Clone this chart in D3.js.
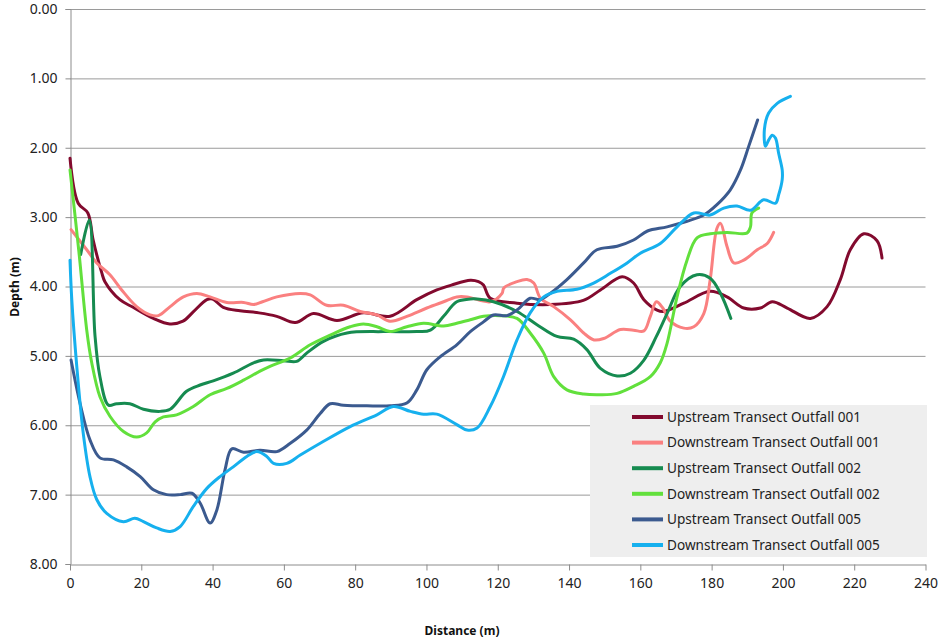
<!DOCTYPE html>
<html>
<head>
<meta charset="utf-8">
<script src="https://cdn.jsdelivr.net/npm/d3@7/dist/d3.min.js"></script>
<style>
  html, body { margin: 0; padding: 0; background: #fff; }
  svg { display: block; }
</style>
</head>
<body>
<svg id="chart" width="942" height="642"></svg>
<script>
// ---- Data: [distance (m), depth (m)] ----
const seriesNames = [
  "Upstream Transect Outfall 001",
  "Downstream Transect Outfall 001",
  "Upstream Transect Outfall 002",
  "Downstream Transect Outfall 002",
  "Upstream Transect Outfall 005",
  "Downstream Transect Outfall 005"
];
const seriesColors = ["#820a2e", "#fa8080", "#168b50", "#62e03c", "#3b5a8f", "#16b0ee"];

const upstream001 = [[0,2.15],[2.3,2.8],[5,2.94],[6.5,3.33],[8.9,3.8],[9.8,3.93],[14,4.19],[17.7,4.3],[23.4,4.46],[28,4.54],[31.7,4.5],[34.5,4.37],[38.4,4.19],[40,4.18],[43,4.3],[47.7,4.35],[53,4.38],[58,4.43],[63.2,4.52],[68.3,4.39],[74.9,4.49],[82.3,4.38],[89.8,4.43],[97.3,4.19],[102.9,4.05],[107,3.98],[112.3,3.91],[114.6,3.93],[116,3.98],[117.9,4.17],[125.4,4.24],[134.7,4.26],[144,4.2],[148.8,4.05],[154.9,3.86],[158.1,3.95],[161,4.19],[164.7,4.34],[166.5,4.36],[172.2,4.24],[179.6,4.07],[184.3,4.15],[189,4.31],[193.7,4.31],[197,4.22],[201.2,4.31],[207.7,4.46],[212.4,4.29],[216.1,3.9],[218.9,3.47],[222.7,3.24],[226.4,3.34],[227.8,3.59]];

const downstream001 = [[0.3,3.18],[4.7,3.47],[7.5,3.66],[11.2,3.83],[14.5,4.05],[18.7,4.29],[22.5,4.41],[24.8,4.42],[28.1,4.29],[31.8,4.15],[35.6,4.1],[39.3,4.15],[44,4.23],[48.7,4.23],[51.5,4.26],[54,4.22],[58,4.15],[64.6,4.1],[67.4,4.12],[72,4.27],[76.7,4.27],[81.4,4.36],[86.1,4.41],[89.8,4.5],[94.5,4.43],[100.1,4.31],[104.8,4.22],[108.5,4.15],[111.4,4.15],[117.9,4.22],[121.2,4.1],[121.7,4.02],[125.4,3.93],[128.2,3.9],[130.1,3.95],[132,4.17],[135.7,4.29],[140.4,4.48],[144.1,4.67],[147,4.77],[149.7,4.75],[154.4,4.62],[158.1,4.63],[161,4.64],[162.8,4.43],[164.5,4.22],[166.3,4.31],[168.4,4.5],[172.2,4.6],[175,4.58],[177.8,4.39],[179.6,3.9],[181.5,3.16],[182.5,3.09],[184.3,3.42],[186.2,3.66],[189,3.62],[192.8,3.47],[195.6,3.38],[197.4,3.22]];

const upstream002 = [[3,3.54],[5.4,3.04],[7,4.7],[8.4,5.3],[10.8,5.71],[13.1,5.69],[16.8,5.69],[20.6,5.77],[25.3,5.8],[28.1,5.77],[32.7,5.51],[36.5,5.42],[40.2,5.36],[45.8,5.25],[51.5,5.1],[54.3,5.06],[59.9,5.07],[63.6,5.08],[66.4,4.96],[71.1,4.79],[77.7,4.67],[87.9,4.65],[97.3,4.65],[101.1,4.63],[104.8,4.43],[108.5,4.22],[112.3,4.18],[114.2,4.18],[118.8,4.22],[125.4,4.36],[131,4.55],[136.6,4.72],[141.3,4.76],[145,4.91],[148.8,5.18],[153.5,5.29],[157.2,5.25],[161,5.06],[164.5,4.72],[167.5,4.39],[171.2,4.0],[175.9,3.83],[179.6,3.88],[182.5,4.1],[185.4,4.46]];

const downstream002 = [[0,2.32],[2.5,3.5],[4.7,4.63],[6.1,5.1],[8.4,5.59],[11.2,5.87],[15,6.09],[18.7,6.17],[21.5,6.11],[23.9,5.95],[26.2,5.88],[29.9,5.85],[34.6,5.73],[39.3,5.56],[44,5.47],[48.7,5.35],[53.3,5.22],[56.1,5.15],[61.8,5.03],[67.4,4.84],[73,4.7],[78.6,4.58],[82.3,4.54],[86.1,4.58],[89.8,4.65],[94.5,4.58],[99.2,4.53],[104.8,4.57],[108.5,4.53],[112.3,4.48],[116,4.43],[120.7,4.42],[125.4,4.46],[129.1,4.67],[132.9,4.96],[135.7,5.3],[139.4,5.49],[144.1,5.55],[148.8,5.56],[153.5,5.54],[158.1,5.44],[162.8,5.3],[165.6,5.1],[167.5,4.82],[170.3,4.15],[173.1,3.62],[175.9,3.3],[179.6,3.24],[184.3,3.22],[189.9,3.23],[190.9,3.14],[191.3,2.94],[193.2,2.87]];

const upstream005 = [[0.3,5.06],[2.8,5.68],[5.6,6.21],[8.4,6.47],[12.2,6.5],[15.9,6.6],[19.7,6.74],[23.4,6.93],[27.1,7.0],[30.9,7.0],[34.2,6.98],[36.5,7.12],[39.3,7.41],[41.2,7.22],[43.5,6.64],[45.4,6.34],[48.7,6.39],[53.3,6.36],[58,6.38],[61.8,6.26],[66.4,6.07],[70.2,5.83],[73,5.69],[76.7,5.71],[83.3,5.72],[89.8,5.72],[94.5,5.68],[97.3,5.49],[100.1,5.2],[103.9,5.01],[108.5,4.84],[112.3,4.65],[116,4.51],[118.8,4.41],[122.6,4.42],[125.4,4.34],[129.1,4.17],[131.9,4.19],[134.7,4.1],[139.4,3.9],[144.1,3.66],[147.8,3.47],[153.5,3.42],[158.1,3.33],[162,3.2],[167.5,3.14],[173.1,3.06],[177.8,2.97],[181.5,2.82],[185.2,2.61],[188.1,2.32],[190.4,1.98],[192.9,1.6]];

const downstream005 = [[0,3.62],[0.5,4.19],[1.9,5.15],[3.7,6.11],[5.6,6.74],[7.5,7.07],[10.3,7.27],[15,7.39],[18.2,7.34],[20.6,7.39],[24.3,7.48],[28.1,7.53],[30.9,7.46],[34.6,7.17],[38.4,6.91],[42.1,6.74],[45.8,6.6],[49.6,6.45],[52.4,6.38],[55.2,6.45],[57.1,6.55],[60.8,6.55],[64.6,6.43],[70.2,6.26],[78.6,6.02],[86.1,5.85],[90.7,5.73],[95.5,5.8],[99.2,5.84],[102.9,5.84],[108.5,5.99],[111.4,6.07],[114.2,6.04],[117.9,5.73],[121.6,5.3],[125.4,4.77],[129.1,4.38],[132.9,4.15],[136.6,4.07],[142.2,4.04],[146.9,3.95],[151.6,3.81],[156.3,3.66],[160,3.52],[165.6,3.38],[170.3,3.14],[175,2.94],[179.6,2.97],[183.4,2.87],[187.1,2.84],[190.9,2.9],[194.6,2.75],[197.9,2.8],[198.8,2.68],[199.8,2.46],[199.8,2.32],[198.8,2.08],[197.9,1.86],[197,1.82],[196,1.89],[195.1,1.98],[194.8,1.74],[196,1.5],[198.4,1.36],[202.1,1.26]];

const xTicks = [0,20,40,60,80,100,120,140,160,180,200,220,240];
const yTicks = [0,1,2,3,4,5,6,7,8];
const xTitle = "Distance (m)";
const yTitle = "Depth (m)";

const allSeries = [upstream001, downstream001, upstream002, downstream002, upstream005, downstream005];

// ---- Layout ----
const svg = d3.select("#chart");
const x = d3.scaleLinear().domain([0, 240]).range([70, 925.5]);
const y = d3.scaleLinear().domain([0, 8]).range([9, 564]);
const font = "'Noto Sans', 'Open Sans', sans-serif";

// gridlines
svg.append("g").selectAll("line").data(yTicks.slice(0, -1)).join("line")
  .attr("x1", x(0)).attr("x2", x(240))
  .attr("y1", d => y(d) + 0.5).attr("y2", d => y(d) + 0.5)
  .attr("stroke", "#9a9a9a").attr("stroke-width", 1);

// y axis
const yAxis = svg.append("g").attr("transform", `translate(${x(0) + 0.5},0)`)
  .call(d3.axisLeft(y).tickValues(yTicks).tickFormat(d3.format(".2f")).tickSize(5).tickPadding(8));
yAxis.select(".domain").attr("stroke", "#8c8c8c");
yAxis.selectAll(".tick line").attr("stroke", "#8c8c8c");
yAxis.selectAll("text").attr("font-family", font).attr("font-size", 14).attr("fill", "#222");

// x axis
const xAxis = svg.append("g").attr("transform", `translate(0,${y(8) + 0.5})`)
  .call(d3.axisBottom(x).tickValues(xTicks).tickSize(6).tickPadding(8).tickSizeOuter(0));
xAxis.select(".domain").attr("stroke", "#8c8c8c");
xAxis.selectAll(".tick line").attr("stroke", "#8c8c8c");
xAxis.selectAll("text").attr("font-family", font).attr("font-size", 14).attr("fill", "#222");

// axis titles
svg.append("text").attr("x", 462).attr("y", 635).attr("text-anchor", "middle")
  .attr("font-family", font).attr("font-size", 12).attr("font-weight", "bold").attr("fill", "#111")
  .text(xTitle);
svg.append("text").attr("transform", "translate(19,287) rotate(-90)").attr("text-anchor", "middle")
  .attr("font-family", font).attr("font-size", 12).attr("font-weight", "bold").attr("fill", "#111")
  .text(yTitle);

// lines
const line = d3.line().x(d => x(d[0])).y(d => y(d[1])).curve(d3.curveCatmullRom.alpha(0.5));
svg.append("g").selectAll("path").data(allSeries).join("path")
  .attr("d", line)
  .attr("fill", "none")
  .attr("stroke", (d, i) => seriesColors[i])
  .attr("stroke-width", 3)
  .attr("stroke-linejoin", "round")
  .attr("stroke-linecap", "round");

// legend
const lg = svg.append("g");
lg.append("rect").attr("x", 590).attr("y", 405).attr("width", 337).attr("height", 152).attr("fill", "#eeeeee");
const rows = lg.selectAll("g.row").data(seriesNames).join("g").attr("class", "row")
  .attr("transform", (d, i) => `translate(0,${417 + i * 25.6})`);
rows.append("line").attr("x1", 632).attr("x2", 663).attr("y1", 0).attr("y2", 0)
  .attr("stroke", (d, i) => seriesColors[i]).attr("stroke-width", 4);
rows.append("text").attr("x", 667).attr("y", 0).attr("dy", "0.35em")
  .attr("font-family", font).attr("font-size", 13.6).attr("fill", "#222")
  .text(d => d);
</script>
</body>
</html>
